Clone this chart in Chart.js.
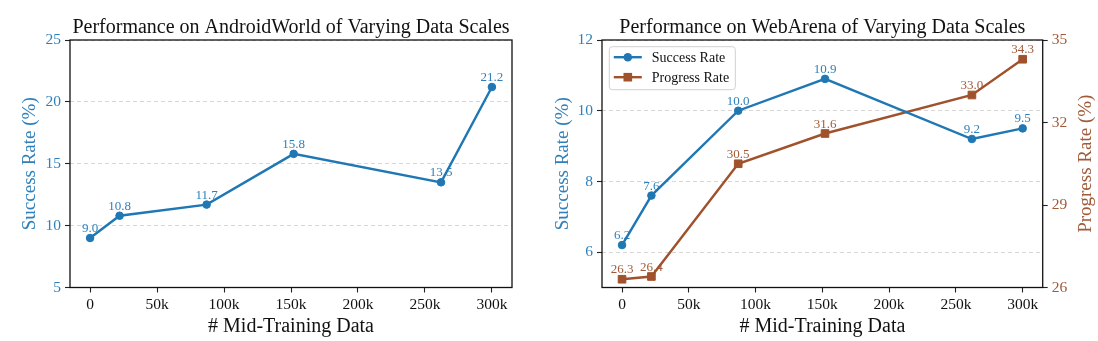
<!DOCTYPE html>
<html>
<head>
<meta charset="utf-8">
<script src="https://cdn.jsdelivr.net/npm/chart.js@4.4.1/dist/chart.umd.min.js"></script>
<style>
  html, body { margin: 0; padding: 0; background: #ffffff; }
  body { width: 1098px; height: 341px; position: relative; overflow: hidden; }
  .panel { position: absolute; top: 0; width: 549px; height: 341px; }
  #left { left: 0; }
  #right { left: 549px; }
</style>
</head>
<body>
<div class="panel" id="left"><canvas id="androidChart" width="549" height="341"></canvas></div>
<div class="panel" id="right"><canvas id="webChart" width="549" height="341"></canvas></div>
<script>
// Amount of mid-training data (x positions of the measured runs)
const midTrainingData = [0, 22000, 87000, 152000, 262000, 300000];

// AndroidWorld success rate (%)
const androidSuccess = [9.0, 10.8, 11.7, 15.8, 13.5, 21.2];

// WebArena success rate (%) and progress rate (%)
const webSuccess = [6.2, 7.6, 10.0, 10.9, 9.2, 9.5];
const webProgress = [26.3, 26.4, 30.5, 31.6, 33.0, 34.3];

// Axis ticks
const xTickValues = [0, 50000, 100000, 150000, 200000, 250000, 300000];
const xTickLabels = ['0', '50k', '100k', '150k', '200k', '250k', '300k'];
const androidYTicks = [5, 10, 15, 20, 25];
const webSuccessTicks = [6, 8, 10, 12];
const webProgressTicks = [26, 29, 32, 35];

const SERIF = '"Liberation Serif", "DejaVu Serif", serif';
const BLUE = '#1f77b4';
const BROWN = '#a0522d';
const BLUE_TEXT = '#2f80ba';
const BROWN_TEXT = '#a05a38';

const toPoints = (xs, ys) => xs.map((x, i) => ({ x: x, y: ys[i] }));
const fixedTicks = (values) => (scale) => { scale.ticks = values.map(v => ({ value: v })); };

// Value labels (drawn beneath the lines), frame, titles and legend
const decor = {
  id: 'decor',
  beforeDatasetsDraw(chart) {
    const ctx = chart.ctx;
    chart.data.datasets.forEach((ds, i) => {
      const meta = chart.getDatasetMeta(i);
      ctx.save();
      ctx.font = '13px ' + SERIF;
      ctx.fillStyle = ds.labelColor;
      ctx.textAlign = 'center';
      ctx.textBaseline = 'alphabetic';
      meta.data.forEach((pt, j) => {
        ctx.fillText(ds.data[j].y.toFixed(1), pt.x, pt.y - 6);
      });
      ctx.restore();
    });
  },
  afterDraw(chart, args, o) {
    const ctx = chart.ctx;
    const a = chart.chartArea;
    const cx = (a.left + a.right) / 2;
    const cy = (a.top + a.bottom) / 2;
    ctx.save();
    // frame
    ctx.strokeStyle = '#111111';
    ctx.lineWidth = 1.3;
    ctx.setLineDash([]);
    ctx.strokeRect(a.left, a.top, a.right - a.left, a.bottom - a.top);

    // title
    ctx.fillStyle = '#111111';
    ctx.textAlign = 'center';
    ctx.textBaseline = 'alphabetic';
    ctx.font = '20px ' + SERIF;
    ctx.fillText(o.title, cx, 32.5);

    // x axis title
    ctx.fillText(o.xTitle, cx, 331.5);

    // y axis titles (rotated, reading upward)
    ctx.font = '19px ' + SERIF;
    (o.yTitles || []).forEach(t => {
      ctx.save();
      ctx.translate(t.x, cy);
      ctx.rotate(-Math.PI / 2);
      ctx.fillStyle = t.color;
      ctx.textAlign = 'center';
      ctx.fillText(t.text, 0, 0);
      ctx.restore();
    });

    // legend
    if (o.legend) {
      const L = o.legend;
      ctx.beginPath();
      const r = 3;
      const x0 = L.x, y0 = L.y, w = L.w, h = L.h;
      ctx.moveTo(x0 + r, y0);
      ctx.arcTo(x0 + w, y0, x0 + w, y0 + h, r);
      ctx.arcTo(x0 + w, y0 + h, x0, y0 + h, r);
      ctx.arcTo(x0, y0 + h, x0, y0, r);
      ctx.arcTo(x0, y0, x0 + w, y0, r);
      ctx.closePath();
      ctx.fillStyle = 'rgba(255,255,255,0.85)';
      ctx.fill();
      ctx.strokeStyle = '#d0d0d0';
      ctx.lineWidth = 1;
      ctx.stroke();
      chart.data.datasets.forEach((ds, i) => {
        const rowY = L.y + 10.5 + i * 20;
        ctx.strokeStyle = ds.borderColor;
        ctx.lineWidth = ds.borderWidth;
        ctx.beginPath();
        ctx.moveTo(L.x + 4.5, rowY);
        ctx.lineTo(L.x + 32.5, rowY);
        ctx.stroke();
        ctx.fillStyle = ds.borderColor;
        if (ds.pointStyle === 'rect') {
          ctx.fillRect(L.x + 18.5 - 4.3, rowY - 4.3, 8.6, 8.6);
        } else {
          ctx.beginPath();
          ctx.arc(L.x + 18.5, rowY, 4.3, 0, Math.PI * 2);
          ctx.fill();
        }
        ctx.fillStyle = '#111111';
        ctx.font = '14px ' + SERIF;
        ctx.textAlign = 'left';
        ctx.textBaseline = 'alphabetic';
        ctx.fillText(ds.label, L.x + 42.5, rowY + 5);
      });
    }
    ctx.restore();
  }
};

function xScale(height) {
  return {
    type: 'linear',
    min: -15000,
    max: 315000,
    afterBuildTicks: fixedTicks(xTickValues),
    afterFit: (s) => { s.height = height; },
    grid: { drawOnChartArea: false, drawTicks: true, tickLength: 5, tickColor: '#222222', tickWidth: 1.1 },
    border: { display: false },
    ticks: {
      color: '#111111',
      font: { family: SERIF, size: 15.5 },
      padding: 3,
      maxRotation: 0,
      autoSkip: false,
      callback: (v, i) => xTickLabels[i]
    }
  };
}

function yScale(opts) {
  return {
    type: 'linear',
    position: opts.position,
    min: opts.min,
    max: opts.max,
    afterBuildTicks: fixedTicks(opts.ticks),
    afterFit: (s) => { s.width = opts.width; },
    grid: {
      drawOnChartArea: opts.grid,
      color: '#d2d2d2',
      lineWidth: 0.9,
      drawTicks: true,
      tickLength: 5,
      tickColor: '#222222',
      tickWidth: 1.1
    },
    border: { display: false, dash: [4, 3] },
    ticks: {
      color: opts.color,
      font: { family: SERIF, size: 15.5 },
      padding: 4,
      autoSkip: false,
      callback: (v) => String(v)
    }
  };
}

function lineSet(label, ys, color, labelColor, style, radius) {
  return {
    label: label,
    data: toPoints(midTrainingData, ys),
    borderColor: color,
    backgroundColor: color,
    borderWidth: 2.4,
    pointStyle: style,
    pointRadius: radius,
    pointHoverRadius: radius,
    pointBackgroundColor: color,
    pointBorderColor: color,
    pointBorderWidth: 1,
    labelColor: labelColor,
    tension: 0,
    fill: false
  };
}

const common = {
  responsive: false,
  animation: false,
  events: [],
  layout: { autoPadding: false }
};

new Chart(document.getElementById('androidChart'), {
  type: 'line',
  data: {
    datasets: [lineSet('Success Rate', androidSuccess, BLUE, BLUE_TEXT, 'circle', 3.8)]
  },
  options: Object.assign({}, common, {
    layout: { autoPadding: false, padding: { top: 40, right: 37, left: 0, bottom: 0 } },
    scales: {
      x: xScale(53.5),
      y: yScale({ position: 'left', min: 5, max: 25, ticks: androidYTicks, width: 70, grid: true, color: BLUE_TEXT })
    },
    plugins: {
      legend: { display: false },
      tooltip: { enabled: false },
      decor: {
        title: 'Performance on AndroidWorld of Varying Data Scales',
        xTitle: '# Mid-Training Data',
        yTitles: [{ text: 'Success Rate (%)', x: 34.5, color: BLUE_TEXT }]
      }
    }
  }),
  plugins: [decor]
});

new Chart(document.getElementById('webChart'), {
  type: 'line',
  data: {
    datasets: [
      Object.assign(lineSet('Success Rate', webSuccess, BLUE, BLUE_TEXT, 'circle', 3.8), { yAxisID: 'y' }),
      Object.assign(lineSet('Progress Rate', webProgress, BROWN, BROWN_TEXT, 'rect', 5.4), { yAxisID: 'y1' })
    ]
  },
  options: Object.assign({}, common, {
    layout: { autoPadding: false, padding: { top: 40, right: 0, left: 0, bottom: 0 } },
    scales: {
      x: xScale(53.5),
      y: yScale({ position: 'left', min: 5, max: 12, ticks: webSuccessTicks, width: 53, grid: true, color: BLUE_TEXT }),
      y1: yScale({ position: 'right', min: 26, max: 35, ticks: webProgressTicks, width: 55.3, grid: false, color: BROWN_TEXT })
    },
    plugins: {
      legend: { display: false },
      tooltip: { enabled: false },
      decor: {
        title: 'Performance on WebArena of Varying Data Scales',
        xTitle: '# Mid-Training Data',
        yTitles: [
          { text: 'Success Rate (%)', x: 19, color: BLUE_TEXT },
          { text: 'Progress Rate (%)', x: 542, color: BROWN_TEXT }
        ],
        legend: { x: 60.3, y: 46.7, w: 126, h: 43 }
      }
    }
  }),
  plugins: [decor]
});
</script>
</body>
</html>
